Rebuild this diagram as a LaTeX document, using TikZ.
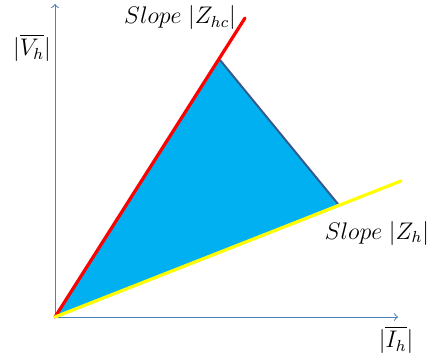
\documentclass[tikz,border=0pt]{standalone}
\usepackage{amsmath}
\usepackage{amssymb}
\usepackage{xcolor}
\usepackage{tikz}
\usetikzlibrary{arrows, positioning}

\definecolor{axisblue}{RGB}{79,129,189}
\definecolor{regionblue}{RGB}{0,176,240}
\definecolor{edgeblue}{RGB}{55,90,140}
\definecolor{slopeyellow}{RGB}{255,255,0}

\begin{document}
\begin{tikzpicture}[x=0.5pt, y=-0.5pt,
      axis/.style={draw=axisblue, line width=0.5pt, ->, >=to},
      region/.style={fill=regionblue, draw=none},
      upper/.style={draw=red, line width=1.6pt, line cap=round},
      lower/.style={draw=slopeyellow, line width=1.6pt, line cap=round},
      label/.style={inner sep=0pt, font=\large}]
      \useasboundingbox (0,0) rectangle (433,358);
      % corner points
      \coordinate (O) at (55,317);
      \coordinate (ytop) at (55,4);
      \coordinate (xend) at (398,317);
      \coordinate (A) at (220,60);
      \coordinate (B) at (338,204);
      \coordinate (redend) at (245,18);
      \coordinate (yelend) at (401,181);
      % axes
      \draw[axis] (O) -- (ytop);
      \draw[axis] (O) -- (xend);
      % region and bounds
      \fill[region] (O) -- (A) -- (B) -- cycle;
      \draw[edgeblue, line width=1pt] (A) -- (B);
      \draw[upper] (O) -- (redend);
      \draw[lower] (O) -- (yelend);
      % labels
      \node[label] (vh) at (32,48) {$|\overline{V_h}|$};
      \node[label] (ih) at (396,340) {$|\overline{I_h}|$};
      \node[label] (zhc) at (180,18) {$Slope\;|Z_{hc}|$};
      \node[label] (zh) at (377,233) {$Slope\;|Z_h|$};
    \end{tikzpicture}
\end{document}
